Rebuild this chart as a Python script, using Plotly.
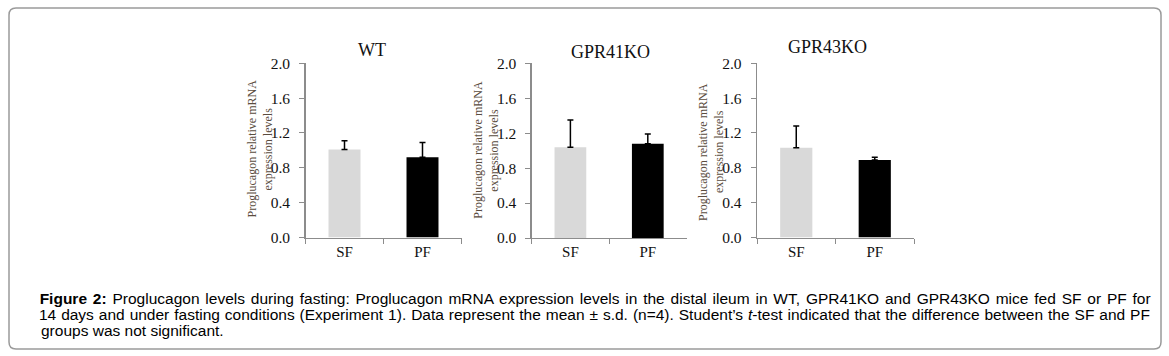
import plotly.graph_objects as go

W, H = 1169, 356

# ---- data ----
groups = ["WT", "GPR41KO", "GPR43KO"]
categories = ["SF", "PF"]
mean_wt = [1.01, 0.92]
sd_wt = [0.10, 0.17]
mean_41 = [1.04, 1.08]
sd_41 = [0.31, 0.11]
mean_43 = [1.03, 0.89]
sd_43 = [0.25, 0.03]
means = [mean_wt, mean_41, mean_43]
sds = [sd_wt, sd_41, sd_43]
bar_colors = ["#d9d9d9", "#000000"]
y_ticks = [0.0, 0.4, 0.8, 1.2, 1.6, 2.0]
y_title_lines = ["Proglucagon relative mRNA", "expression levels"]
caption_lines = [
    "<b>Figure 2:</b> Proglucagon levels during fasting: Proglucagon mRNA expression levels in the distal ileum in WT, GPR41KO and GPR43KO mice fed SF or PF for",
    "14 days and under fasting conditions (Experiment 1). Data represent the mean ± s.d. (n=4). Student’s <i>t</i>-test indicated that the difference between the SF and PF",
    "groups was not significant.",
]

# ---- layout geometry (pixels) ----
x_dom_px = [(305.5, 461.5), (531.7, 686.5), (757.0, 914.0)]
y_dom_px = [(237.5, 63.3), (238.0, 63.3), (237.5, 63.3)]
title_px = [(372, 50), (610, 52), (827, 47)]
ytitle_offsets_px = [54, 38]
ytitle_y_px = [149, 150, 152]
caption_left_px = 39
caption_right_px = 1150
caption_px_y = [298, 314, 330]

def fx(px):
    return px / W

def fy(py):
    return 1 - py / H

fig = go.Figure()
serif = "Liberation Serif, Times New Roman, serif"
axis_col = "#8c8c8c"

for i in range(3):
    sfx = "" if i == 0 else str(i + 1)
    fig.add_trace(go.Bar(
        x=categories, y=means[i],
        marker=dict(color=bar_colors, line=dict(width=0)),
        width=0.41,
        error_y=dict(type="data", array=sds[i], arrayminus=[0, 0], symmetric=False,
                     color="#000000", thickness=1.5, width=3),
        xaxis="x" + sfx, yaxis="y" + sfx, showlegend=False, hoverinfo="skip",
    ))
    xd = [fx(x_dom_px[i][0]), fx(x_dom_px[i][1])]
    yd = [fy(y_dom_px[i][0]), fy(y_dom_px[i][1])]
    fig.update_layout(**{
        "xaxis" + sfx: dict(
            domain=xd, anchor="y" + sfx, type="category", tickson="boundaries",
            ticks="outside", ticklen=5, tickcolor=axis_col, tickwidth=1,
            showline=True, linecolor=axis_col, linewidth=1.3, showgrid=False,
            zeroline=False, automargin=False,
            tickfont=dict(family=serif, size=15, color="#111111"),
        ),
        "yaxis" + sfx: dict(
            domain=yd, anchor="x" + sfx, range=[0, 2.0],
            tickvals=y_ticks, tickformat=".1f",
            ticks="outside", ticklen=5, tickcolor=axis_col, tickwidth=1,
            ticklabelstandoff=6,
            showline=True, linecolor=axis_col, linewidth=1.3, showgrid=False,
            zeroline=False, automargin=False,
            tickfont=dict(family=serif, size=15.5, color="#111111"),
        ),
    })
    fig.add_annotation(
        text=groups[i], xref="paper", yref="paper",
        x=fx(title_px[i][0]), y=fy(title_px[i][1]),
        xanchor="center", yanchor="middle", showarrow=False,
        font=dict(family=serif, size=18, color="#111111"),
    )
    for line, off in zip(y_title_lines, ytitle_offsets_px):
        fig.add_annotation(
            text=line, xref="paper", yref="paper",
            x=fx(x_dom_px[i][0] - off), y=fy(ytitle_y_px[i]),
            xanchor="center", yanchor="middle", showarrow=False, textangle=-90,
            font=dict(family=serif, size=12, color="#5a4c3e"),
        )

# justified lines are centred on the text block; the last line is left-aligned
for k, (line, py) in enumerate(zip(caption_lines, caption_px_y)):
    last = k == len(caption_lines) - 1
    fig.add_annotation(
        text=line, xref="paper", yref="paper",
        x=fx(caption_left_px) if last else fx((caption_left_px + caption_right_px) / 2),
        y=fy(py), xanchor="left" if last else "center", yanchor="middle",
        showarrow=False,
        font=dict(family="Liberation Sans, Arial, sans-serif", size=15.5, color="#000000"),
    )

# rounded border
x0, x1, y0, y1, r = 9, 1161, 8, 349, 7
def P(px, py):
    return f"{fx(px):.5f},{fy(py):.5f}"
path = (f"M {P(x0 + r, y0)} L {P(x1 - r, y0)} Q {P(x1, y0)} {P(x1, y0 + r)} "
        f"L {P(x1, y1 - r)} Q {P(x1, y1)} {P(x1 - r, y1)} "
        f"L {P(x0 + r, y1)} Q {P(x0, y1)} {P(x0, y1 - r)} "
        f"L {P(x0, y0 + r)} Q {P(x0, y0)} {P(x0 + r, y0)} Z")
fig.add_shape(type="path", path=path, xref="paper", yref="paper",
              line=dict(color="#9a9a9a", width=1.5), fillcolor="rgba(0,0,0,0)")

fig.update_layout(
    width=W, height=H, margin=dict(l=0, r=0, t=0, b=0),
    paper_bgcolor="white", plot_bgcolor="white", bargap=0.59,
)

# remove default page margin and justify the first two caption lines
post = """
document.body.style.margin = '0px';
var gd = document.getElementById('{plot_id}');
var target = %d;
gd.querySelectorAll('.annotation-text').forEach(function(t) {
  var s = t.textContent;
  if (s.indexOf('Figure 2:') === 0 || s.indexOf('14 days') === 0) {
    var w = t.getComputedTextLength();
    var n = (s.match(/ /g) || []).length;
    if (n > 0 && w < target) { t.style.wordSpacing = ((target - w) / n) + 'px'; }
  }
});
""" % (caption_right_px - caption_left_px)

fig.write_html("out.html", post_script=post, config={"displayModeBar": False, "staticPlot": True})
